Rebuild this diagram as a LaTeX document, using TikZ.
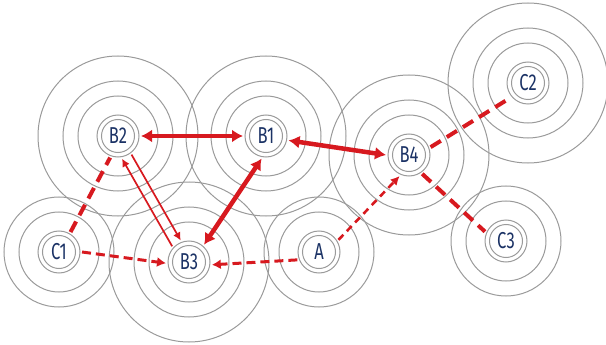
\documentclass[tikz,border=0pt]{standalone}
\usepackage{fontspec}
\setmainfont{Fira Sans}
\usepackage{graphicx}
\usetikzlibrary{arrows.meta}
\definecolor{linkRed}{HTML}{D7191F}
\definecolor{ringGray}{HTML}{9A9A9A}
\definecolor{labelNavy}{HTML}{1B3265}
\newcommand{\hublabel}[1]{\scalebox{0.72}[1]{#1}}

\begin{document}
\begin{tikzpicture}[x=1pt, y=-1pt,
    hub/.style={circle, minimum size=44pt, inner sep=0pt, outer sep=1pt,
                font=\fontsize{23}{23}\selectfont, text=labelNavy},
    ring/.style={draw=ringGray, line width=1pt},
    boldlink/.style={draw=linkRed, line width=4.5pt,
                {Latex[length=11pt,width=13pt]}-{Latex[length=11pt,width=13pt]}},
    thinlink/.style={draw=linkRed, line width=1.7pt, -{Latex[length=8pt,width=8pt]}},
    heavydash/.style={draw=linkRed, line width=4pt, dash pattern=on 12pt off 7pt},
    middash/.style={draw=linkRed, line width=3pt, dash pattern=on 9pt off 5pt,
                -{Latex[length=9pt,width=10pt]}},
    lightdash/.style={draw=linkRed, line width=2.6pt, dash pattern=on 7pt off 5pt,
                -{Latex[length=9pt,width=9pt]}},
  ]
    \useasboundingbox (0,0) rectangle (606,345);

    % hubs
    \node[hub] (b2) at (118,136) {\hublabel{B2}};
    \node[hub] (b1) at (266,136) {\hublabel{B1}};
    \node[hub] (b3) at (189,262) {\hublabel{B3}};
    \node[hub] (b4) at (409,155) {\hublabel{B4}};
    \node[hub] (c2) at (528,83) {\hublabel{C2}};
    \node[hub] (c1) at (59,252) {\hublabel{C1}};
    \node[hub] (a) at (319,252) {\hublabel{A}};
    \node[hub] (c3) at (506,241) {\hublabel{C3}};

    % rings
    \foreach \hubname in {b2, b1, b3, b4, c2}
      \foreach \r in {80, 55, 40, 21, 16.5}
        \draw[ring] (\hubname) circle (\r pt);
    \foreach \hubname in {c1, a, c3}
      \foreach \r in {55, 40, 21, 16.5}
        \draw[ring] (\hubname) circle (\r pt);

    % links
    \draw[boldlink] (b2) -- (b1);
    \draw[boldlink] (b1.-11) -- (b4.180);
    \draw[boldlink] (b3.49) -- (b1.-101);
    \draw[thinlink] (b3.137) -- (b2.-80);
    \draw[thinlink] (b2.-54) -- (b3.111);
    \draw[heavydash] (c1.60) -- (b2.-110);
    \draw[heavydash] (b4.20) -- (c2.-140);
    \draw[heavydash] (b4.-55) -- (c3.156);
    \draw[middash] (c1.0) -- (b3.-177);
    \draw[middash] (a.-160) -- (b3.-7);
    \draw[lightdash] (a.32) -- (b4.-114);
  \end{tikzpicture}
\end{document}
